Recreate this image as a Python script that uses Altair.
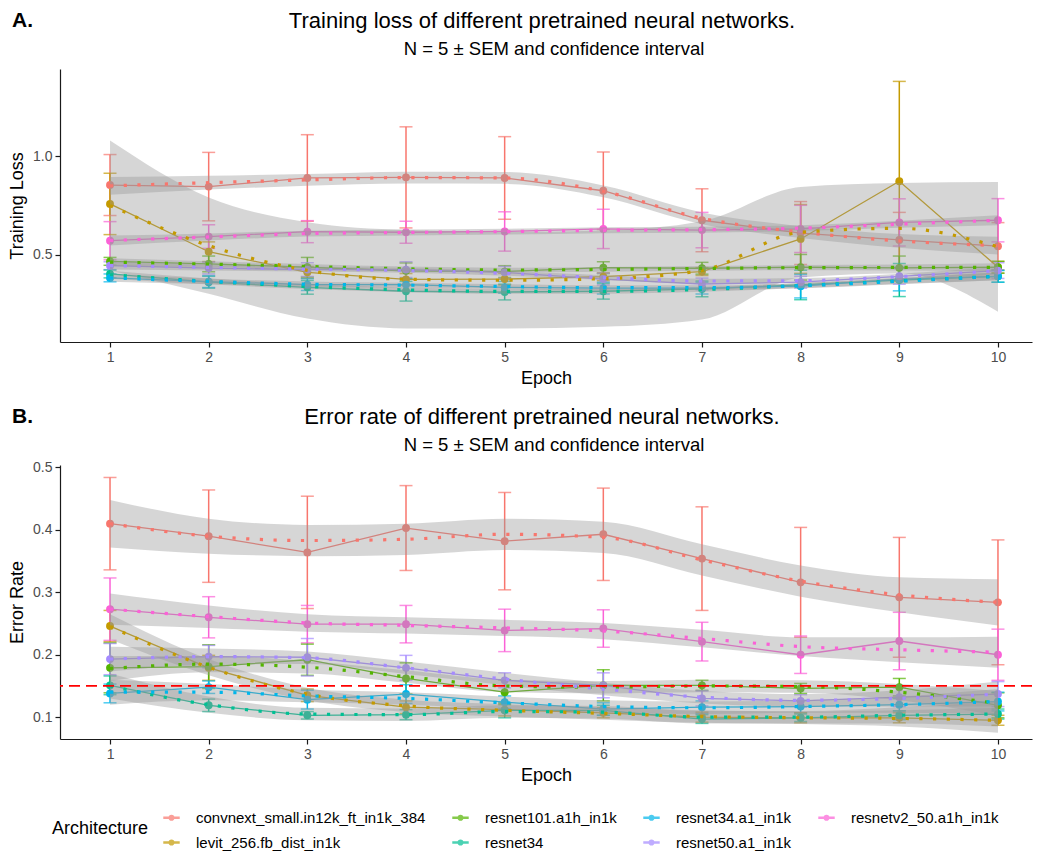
import altair as alt
import pandas as pd

FONT = "Liberation Sans"
ARCHS = ["convnext_small.in12k_ft_in1k_384", "levit_256.fb_dist_in1k", "resnet101.a1h_in1k",
         "resnet34", "resnet34.a1_in1k", "resnet50.a1_in1k", "resnetv2_50.a1h_in1k"]
COLORS = ["#F8766D", "#C49A00", "#53B400", "#00C094", "#00B6EB", "#A58AFF", "#FB61D7"]
EPOCHS = list(range(1, 11))
# Vega fills legend rows first; this order reproduces ggplot's column-wise legend
LEG_IDX = [0, 2, 4, 6, 1, 3, 5]
LEGEND_ORDER = [ARCHS[i] for i in LEG_IDX]
LEGEND_COLORS = [COLORS[i] for i in LEG_IDX]

# ---------------- Panel A: training loss ----------------
LOSS_MEAN = {
    ARCHS[0]: [0.854, 0.846, 0.890, 0.893, 0.890, 0.825, 0.675, 0.610, 0.575, 0.543],
    ARCHS[1]: [0.758, 0.515, 0.410, 0.374, 0.376, 0.388, 0.414, 0.580, 0.873, 0.436],
    ARCHS[2]: [0.466, 0.453, 0.436, 0.418, 0.414, 0.434, 0.431, 0.436, 0.433, 0.436],
    ARCHS[3]: [0.402, 0.360, 0.334, 0.314, 0.310, 0.314, 0.326, 0.346, 0.371, 0.390],
    ARCHS[4]: [0.382, 0.363, 0.348, 0.348, 0.334, 0.330, 0.330, 0.340, 0.376, 0.390],
    ARCHS[5]: [0.444, 0.432, 0.424, 0.424, 0.410, 0.376, 0.351, 0.360, 0.390, 0.419],
    ARCHS[6]: [0.571, 0.592, 0.617, 0.614, 0.618, 0.631, 0.625, 0.631, 0.664, 0.675],
}
LOSS_SEM = {
    ARCHS[0]: [0.155, 0.174, 0.220, 0.257, 0.210, 0.197, 0.160, 0.160, 0.140, 0.120],
    ARCHS[1]: [0.156, 0.050, 0.030, 0.030, 0.030, 0.020, 0.020, 0.175, 0.508, 0.030],
    ARCHS[2]: [0.020, 0.040, 0.050, 0.040, 0.030, 0.030, 0.030, 0.065, 0.060, 0.030],
    ARCHS[3]: [0.020, 0.030, 0.035, 0.050, 0.040, 0.040, 0.040, 0.075, 0.084, 0.030],
    ARCHS[4]: [0.020, 0.030, 0.030, 0.030, 0.030, 0.030, 0.030, 0.060, 0.060, 0.030],
    ARCHS[5]: [0.020, 0.030, 0.035, 0.040, 0.030, 0.030, 0.030, 0.030, 0.040, 0.040],
    ARCHS[6]: [0.097, 0.060, 0.056, 0.056, 0.100, 0.100, 0.090, 0.120, 0.120, 0.110],
}
LOSS_FIT = {
    ARCHS[0]: [0.850, 0.866, 0.880, 0.892, 0.890, 0.822, 0.685, 0.615, 0.570, 0.546],
    ARCHS[1]: [0.750, 0.546, 0.420, 0.375, 0.370, 0.378, 0.420, 0.614, 0.634, 0.540],
    ARCHS[2]: [0.462, 0.452, 0.440, 0.428, 0.422, 0.425, 0.430, 0.434, 0.435, 0.436],
    ARCHS[3]: [0.398, 0.364, 0.338, 0.321, 0.313, 0.313, 0.323, 0.343, 0.367, 0.390],
    ARCHS[4]: [0.382, 0.364, 0.350, 0.345, 0.338, 0.332, 0.332, 0.342, 0.365, 0.390],
    ARCHS[5]: [0.445, 0.435, 0.427, 0.420, 0.405, 0.383, 0.366, 0.368, 0.388, 0.419],
    ARCHS[6]: [0.572, 0.590, 0.607, 0.613, 0.617, 0.624, 0.627, 0.635, 0.655, 0.675],
}
LOSS_CI = {
    ARCHS[0]: [0.045, 0.035, 0.030, 0.030, 0.030, 0.030, 0.030, 0.030, 0.035, 0.045],
    ARCHS[1]: [0.330, 0.245, 0.245, 0.250, 0.245, 0.245, 0.250, 0.230, 0.230, 0.330],
    ARCHS[2]: [0.020, 0.015, 0.013, 0.012, 0.012, 0.012, 0.012, 0.013, 0.015, 0.020],
    ARCHS[3]: [0.020, 0.015, 0.013, 0.012, 0.012, 0.012, 0.012, 0.013, 0.015, 0.020],
    ARCHS[4]: [0.020, 0.015, 0.013, 0.012, 0.012, 0.012, 0.012, 0.013, 0.015, 0.020],
    ARCHS[5]: [0.020, 0.015, 0.013, 0.012, 0.012, 0.012, 0.012, 0.013, 0.015, 0.020],
    ARCHS[6]: [0.025, 0.018, 0.015, 0.015, 0.015, 0.015, 0.015, 0.015, 0.018, 0.025],
}

# ---------------- Panel B: error rate ----------------
ERR_MEAN = {
    ARCHS[0]: [0.410, 0.390, 0.364, 0.403, 0.382, 0.393, 0.354, 0.316, 0.292, 0.284],
    ARCHS[1]: [0.246, 0.179, 0.135, 0.116, 0.112, 0.107, 0.100, 0.099, 0.099, 0.095],
    ARCHS[2]: [0.179, 0.181, 0.192, 0.162, 0.140, 0.151, 0.151, 0.146, 0.148, 0.119],
    ARCHS[3]: [0.151, 0.119, 0.103, 0.104, 0.111, 0.111, 0.097, 0.099, 0.103, 0.105],
    ARCHS[4]: [0.138, 0.148, 0.128, 0.137, 0.124, 0.113, 0.116, 0.117, 0.120, 0.125],
    ARCHS[5]: [0.193, 0.197, 0.196, 0.179, 0.159, 0.151, 0.130, 0.126, 0.132, 0.137],
    ARCHS[6]: [0.273, 0.260, 0.249, 0.249, 0.239, 0.242, 0.221, 0.200, 0.222, 0.200],
}
ERR_SEM = {
    ARCHS[0]: [0.074, 0.074, 0.090, 0.068, 0.078, 0.074, 0.083, 0.088, 0.096, 0.100],
    ARCHS[1]: [0.025, 0.020, 0.010, 0.010, 0.010, 0.008, 0.008, 0.008, 0.008, 0.008],
    ARCHS[2]: [0.040, 0.035, 0.025, 0.025, 0.020, 0.025, 0.008, 0.008, 0.014, 0.020],
    ARCHS[3]: [0.015, 0.010, 0.006, 0.008, 0.012, 0.008, 0.007, 0.006, 0.007, 0.008],
    ARCHS[4]: [0.015, 0.010, 0.015, 0.015, 0.010, 0.010, 0.010, 0.010, 0.010, 0.015],
    ARCHS[5]: [0.025, 0.018, 0.030, 0.020, 0.012, 0.020, 0.012, 0.010, 0.015, 0.020],
    ARCHS[6]: [0.050, 0.033, 0.030, 0.030, 0.034, 0.030, 0.031, 0.030, 0.046, 0.041],
}
ERR_FIT = {
    ARCHS[0]: [0.410, 0.390, 0.383, 0.385, 0.393, 0.388, 0.352, 0.318, 0.296, 0.284],
    ARCHS[1]: [0.245, 0.180, 0.137, 0.118, 0.111, 0.106, 0.101, 0.099, 0.098, 0.095],
    ARCHS[2]: [0.178, 0.185, 0.180, 0.165, 0.150, 0.148, 0.150, 0.149, 0.140, 0.122],
    ARCHS[3]: [0.150, 0.120, 0.105, 0.104, 0.109, 0.108, 0.100, 0.100, 0.103, 0.105],
    ARCHS[4]: [0.140, 0.140, 0.134, 0.130, 0.123, 0.117, 0.115, 0.117, 0.120, 0.125],
    ARCHS[5]: [0.193, 0.197, 0.195, 0.179, 0.161, 0.145, 0.132, 0.127, 0.130, 0.137],
    ARCHS[6]: [0.273, 0.261, 0.251, 0.247, 0.243, 0.238, 0.226, 0.213, 0.208, 0.204],
}
ERR_CI = {
    ARCHS[0]: [0.038, 0.028, 0.025, 0.025, 0.025, 0.025, 0.025, 0.025, 0.028, 0.037],
    ARCHS[1]: [0.020, 0.013, 0.010, 0.010, 0.010, 0.010, 0.010, 0.010, 0.013, 0.020],
    ARCHS[2]: [0.020, 0.013, 0.010, 0.010, 0.010, 0.010, 0.010, 0.010, 0.013, 0.020],
    ARCHS[3]: [0.020, 0.013, 0.010, 0.010, 0.010, 0.010, 0.010, 0.010, 0.013, 0.020],
    ARCHS[4]: [0.020, 0.013, 0.010, 0.010, 0.010, 0.010, 0.010, 0.010, 0.013, 0.020],
    ARCHS[5]: [0.020, 0.013, 0.010, 0.010, 0.010, 0.010, 0.010, 0.010, 0.013, 0.020],
    ARCHS[6]: [0.025, 0.018, 0.014, 0.013, 0.013, 0.013, 0.014, 0.015, 0.020, 0.025],
}
THRESHOLD = [0.15]

LOSS_TICKS = [0.5, 1.0]
ERR_TICKS = [0.1, 0.2, 0.3, 0.4, 0.5]
LOSS_DOMAIN = [0.056, 1.444]
ERR_DOMAIN = [0.065, 0.504]
X_DOMAIN = [0.493, 10.345]
SUBTITLE = "N = 5 ± SEM and confidence interval"

LEGEND_PATH = "M-1,0H1M-0.22,0A0.22,0.22,0,1,1,0.22,0A0.22,0.22,0,1,1,-0.22,0Z"

W = 972

LEGEND = alt.Legend(
    title="Architecture", orient="none", legendX=-8, legendY=739,
    direction="horizontal", columns=4,
    titleOrient="left", titleAnchor="middle", titleBaseline="middle",
    titleFontSize=18, titleFont=FONT, titleFontWeight="normal",
    titleColor="black", labelFont=FONT, labelFontSize=15, labelColor="black", labelLimit=400,
    symbolType=LEGEND_PATH, symbolSize=270, symbolStrokeWidth=2.5, rowPadding=7,
    columnPadding=21, titlePadding=13, labelOffset=15)


def build(mean, sem, fit, ci):
    rows = []
    for a in ARCHS:
        for i, e in enumerate(EPOCHS):
            rows.append(dict(arch=a, epoch=e, mean=mean[a][i],
                             lo=mean[a][i] - sem[a][i], hi=mean[a][i] + sem[a][i],
                             fit=fit[a][i], blo=fit[a][i] - ci[a][i], bhi=fit[a][i] + ci[a][i]))
    return pd.DataFrame(rows)


def label(text, x, y, size, bold=False):
    return alt.Chart(pd.DataFrame({"t": [text]})).mark_text(
        fontSize=size, fontWeight="bold" if bold else "normal", font=FONT,
        align="center" if not bold else "left", baseline="middle", color="black"
    ).encode(text="t:N", x=alt.value(x), y=alt.value(y))


def panel(df, title, ytitle, ydom, yticks, tag, height, hline=None):
    xs = alt.Scale(domain=X_DOMAIN, nice=False, zero=False)
    xa = alt.Axis(values=EPOCHS, format="d", title="Epoch")
    ys = alt.Scale(domain=ydom, nice=False, zero=False)
    ya = alt.Axis(values=yticks, format=".1f", title=ytitle)

    def X():
        return alt.X("epoch:Q", scale=xs, axis=xa, title="Epoch")

    def Y(f):
        return alt.Y(f"{f}:Q", scale=ys, axis=ya, title=ytitle)

    cscale = alt.Scale(domain=LEGEND_ORDER, range=LEGEND_COLORS)

    def C():
        return alt.Color("arch:N", scale=cscale, legend=LEGEND, title="Architecture")

    base = alt.Chart(df)
    bars = base.mark_rule(strokeWidth=1.5).encode(x=X(), y=Y("lo"), y2="hi:Q", color=C())
    cap_lo = base.mark_tick(orient="horizontal", size=13, thickness=1.5).encode(x=X(), y=Y("lo"), color=C())
    cap_hi = base.mark_tick(orient="horizontal", size=13, thickness=1.5).encode(x=X(), y=Y("hi"), color=C())
    line = base.mark_line(strokeWidth=1.3).encode(x=X(), y=Y("mean"), color=C())
    pts = base.mark_circle(size=62, opacity=1).encode(x=X(), y=Y("mean"), color=C())
    band = base.mark_area(color="#999999", opacity=0.4, interpolate="monotone").encode(
        x=X(), y=Y("blo"), y2="bhi:Q", detail="arch:N")
    smooth = base.mark_line(strokeWidth=3.2, strokeDash=[3.2, 10.5], strokeCap="butt",
                            interpolate="monotone").encode(x=X(), y=Y("fit"), color=C())
    layers = [bars, cap_lo, cap_hi, line, pts, band, smooth]
    if hline is not None:
        hl = alt.Chart(pd.DataFrame({"h": hline})).mark_rule(
            color="#FF0000", strokeDash=[11, 6], strokeWidth=1.8).encode(
            y=alt.Y("h:Q", scale=ys, axis=ya, title=ytitle))
        layers.append(hl)
    layers.append(label(tag, -48, -48, 21, bold=True))
    layers.append(label(title, 482, -48, 22))
    layers.append(label(SUBTITLE, 494, -20, 18.5))
    return alt.layer(*layers).properties(width=W, height=height)


dfA = build(LOSS_MEAN, LOSS_SEM, LOSS_FIT, LOSS_CI)
dfB = build(ERR_MEAN, ERR_SEM, ERR_FIT, ERR_CI)

pA = panel(dfA, "Training loss of different pretrained neural networks.", "Training Loss",
           LOSS_DOMAIN, LOSS_TICKS, "A.", 273)
pB = panel(dfB, "Error rate of different pretrained neural networks.", "Error Rate",
           ERR_DOMAIN, ERR_TICKS, "B.", 274, hline=THRESHOLD)

chart = alt.vconcat(pA, pB, spacing=19).properties(
    padding={"top": 2, "left": 0, "right": 0, "bottom": 0}
).configure(background="white").configure_view(stroke=None).configure_axis(
    grid=False, domainColor="#1A1A1A", tickColor="#1A1A1A", domainWidth=1.2, tickWidth=1.2,
    tickSize=5, labelColor="#4D4D4D", labelFont=FONT, labelFontSize=14, titleFont=FONT,
    titleFontSize=18, titleFontWeight="normal", titleColor="black", labelPadding=3
).configure_axisY(titlePadding=6).configure_axisX(titlePadding=5)

chart.save("out.html", embed_options={"renderer": "svg", "actions": False})
